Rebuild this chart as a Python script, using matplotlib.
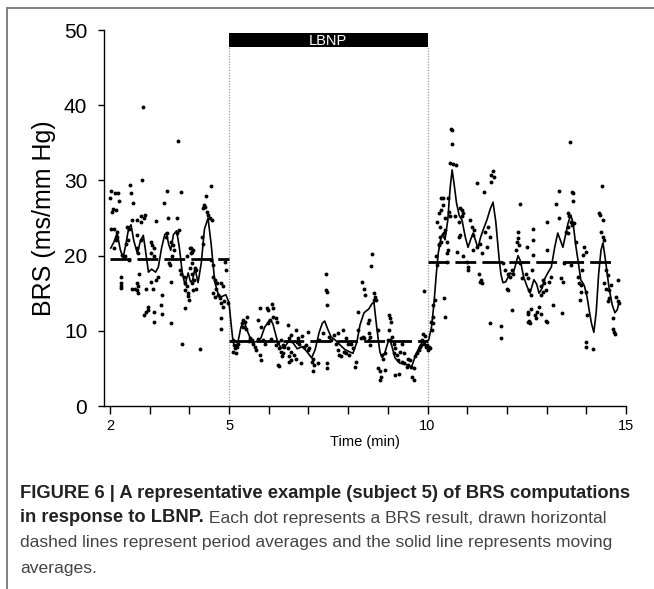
import matplotlib
matplotlib.use("Agg")
import matplotlib.pyplot as plt
from matplotlib.lines import Line2D

# BRS dots: (time in min, BRS in ms/mm Hg)
baseline_dots = [
    (3.71, 35.2), (2.84, 39.7), (2.81, 30.1), (2.50, 29.4), (2.03, 28.6), (2.13, 28.3),
    (2.20, 28.3), (2.00, 27.7), (2.23, 27.2), (2.52, 28.3), (3.44, 28.6), (3.78, 28.5),
    (2.59, 27.0), (3.36, 27.0), (2.08, 26.2), (2.14, 26.1), (2.06, 25.8), (2.88, 25.4),
    (2.79, 25.3), (2.86, 25.0), (2.56, 24.8), (2.69, 24.8), (2.77, 24.5), (3.17, 24.6),
    (3.46, 25.0), (3.68, 25.0), (2.03, 23.6), (2.10, 23.5), (2.17, 23.2), (2.42, 23.8),
    (2.48, 23.5), (2.15, 22.1), (2.18, 22.5), (2.40, 21.6), (2.45, 22.1), (2.67, 22.7),
    (2.77, 22.1), (3.03, 21.8), (3.07, 21.4), (3.11, 21.0), (3.40, 22.5), (3.44, 23.0),
    (3.55, 21.8), (3.59, 21.4), (3.61, 20.7), (3.70, 23.0), (3.74, 23.4), (4.05, 21.0),
    (4.07, 20.5), (2.10, 21.0), (2.31, 20.1), (2.37, 19.9), (2.48, 19.4), (2.69, 21.0),
    (2.71, 20.3), (3.03, 20.3), (3.11, 19.9), (3.49, 19.0), (3.57, 19.9), (3.93, 19.9),
    (2.27, 17.1), (2.27, 16.4), (2.28, 16.0), (2.28, 15.7), (2.73, 17.6), (2.69, 16.3),
    (2.70, 15.9), (2.69, 15.4), (2.70, 15.0), (2.90, 15.5), (3.09, 15.5), (3.15, 16.8),
    (3.21, 17.2), (3.03, 16.5), (3.51, 18.8), (3.53, 16.5), (3.30, 14.8), (3.76, 18.1),
    (3.80, 17.6), (3.86, 17.2), (3.89, 16.3), (3.93, 15.9), (3.96, 15.0), (3.89, 15.4),
    (4.07, 19.0), (4.02, 18.3), (3.88, 13.0), (3.28, 13.4), (2.96, 13.2), (2.92, 12.5),
    (2.86, 12.1), (3.11, 12.5), (3.11, 11.2), (3.55, 11.1), (3.30, 12.3), (3.81, 8.2),
    (4.27, 7.6), (3.99, 14.1), (3.96, 14.6), (2.97, 12.8), (2.56, 15.6), (2.63, 15.5),
    (4.54, 29.3), (4.42, 27.9), (4.37, 26.7), (4.35, 26.3), (4.39, 26.5), (4.45, 25.8),
    (4.48, 25.4), (4.52, 25.0), (4.56, 24.7), (4.02, 21.0), (4.08, 20.7), (4.04, 20.3),
    (4.33, 22.5), (4.35, 21.6), (4.14, 18.3), (4.18, 18.1), (4.06, 17.6), (4.12, 16.8),
    (4.06, 16.3), (4.17, 15.6), (4.10, 15.4), (4.54, 19.4), (4.59, 18.8), (4.60, 17.2),
    (4.64, 16.8), (4.69, 16.3), (4.67, 15.6), (4.81, 16.3), (4.85, 15.9), (4.90, 19.2),
    (4.92, 18.1), (4.60, 15.0), (4.64, 14.5), (4.73, 14.8), (4.77, 14.3), (4.81, 13.7),
    (4.84, 13.2), (4.88, 13.9), (4.98, 13.7), (4.81, 11.7), (4.81, 10.3),
]

lbnp_dots = [
    (5.11, 8.8), (5.12, 8.1), (5.15, 7.7), (5.19, 7.9), (5.09, 7.2), (5.17, 7.0),
    (5.23, 8.3), (5.32, 11.0), (5.36, 11.4), (5.40, 11.2), (5.44, 11.9), (5.36, 10.5),
    (5.43, 10.3), (5.57, 8.8), (5.61, 8.3), (5.65, 7.9), (5.68, 7.4), (5.78, 13.0),
    (5.74, 11.4), (5.80, 10.5), (5.78, 6.8), (5.80, 6.1), (5.95, 13.0), (5.99, 12.8),
    (6.07, 13.6), (6.10, 13.0), (5.99, 11.0), (6.03, 11.4), (6.11, 11.9), (6.18, 11.7),
    (5.90, 8.3), (5.86, 8.8), (6.24, 5.5), (6.24, 8.5), (6.18, 8.1), (5.50, 8.6),
    (5.53, 9.1), (5.72, 8.9), (6.05, 8.9), (7.44, 17.6), (7.44, 15.4), (7.47, 15.1),
    (7.48, 13.4), (8.35, 16.5), (8.41, 15.6), (8.26, 12.5), (8.24, 10.1), (6.22, 11.2),
    (6.48, 10.8), (6.69, 10.1), (6.56, 9.4), (6.52, 9.0), (6.84, 9.3), (6.98, 9.9),
    (6.73, 9.0), (6.70, 8.5), (6.77, 8.3), (6.31, 8.8), (6.35, 8.1), (6.26, 7.7),
    (6.39, 7.9), (6.31, 7.2), (6.37, 7.0), (6.33, 6.6), (6.48, 7.7), (6.56, 7.2),
    (6.50, 6.6), (6.56, 6.1), (6.52, 5.9), (6.26, 5.3), (6.64, 6.8), (6.69, 6.3),
    (6.81, 5.7), (6.89, 7.9), (6.94, 8.1), (6.98, 7.4), (7.02, 7.7), (7.11, 6.3),
    (7.09, 5.9), (7.15, 5.5), (7.12, 4.6), (7.23, 5.7), (7.48, 5.7), (7.48, 5.0),
    (7.52, 9.2), (7.57, 8.8), (7.65, 9.4), (7.69, 8.3), (7.74, 9.7), (7.86, 10.1),
    (7.94, 9.0), (7.99, 8.3), (7.74, 7.4), (7.78, 6.8), (7.82, 6.6), (7.90, 7.2),
    (7.94, 7.0), (8.03, 6.8), (8.07, 8.3), (8.13, 7.7), (8.20, 5.9), (8.18, 5.2),
    (8.32, 9.0), (8.38, 9.2), (7.27, 8.8), (7.36, 9.7), (8.60, 20.2), (8.58, 18.6),
    (8.43, 14.8), (8.64, 15.0), (8.68, 14.5), (8.64, 14.1), (8.70, 14.1), (8.52, 11.5),
    (8.50, 11.0), (8.75, 10.1), (8.52, 9.7), (8.56, 9.2), (8.53, 8.8), (8.56, 8.1),
    (8.39, 9.0), (9.02, 12.1), (9.06, 11.7), (9.09, 11.2), (9.04, 10.1), (9.10, 9.2),
    (9.00, 8.8), (9.06, 8.8), (8.85, 6.8), (8.89, 6.3), (8.93, 7.0), (8.75, 5.0),
    (8.81, 4.6), (8.92, 4.8), (8.83, 3.9), (8.81, 3.5), (9.15, 8.3), (9.19, 7.7),
    (9.15, 7.0), (9.23, 6.8), (9.25, 6.1), (9.36, 8.3), (9.31, 7.2), (9.40, 7.0),
    (9.36, 5.9), (9.42, 5.7), (9.48, 5.2), (9.52, 5.5), (9.59, 5.2), (9.65, 5.0),
    (9.19, 4.1), (9.27, 4.3), (9.61, 3.9), (9.67, 3.5), (9.52, 6.3), (9.56, 6.1),
    (9.69, 6.6), (9.73, 7.0), (9.78, 7.4), (9.82, 7.9), (9.86, 8.8), (9.90, 8.3),
    (9.84, 8.1), (9.88, 9.6), (9.93, 9.3), (9.90, 15.3), (9.98, 8.1), (9.96, 7.8),
]

recovery_dots = [
    (10.03, 7.9), (10.07, 7.7), (10.01, 7.4), (10.11, 10.1), (10.13, 11.0), (10.15, 11.9),
    (10.10, 11.2), (10.14, 13.4), (10.19, 14.1), (10.41, 14.3), (10.43, 11.9), (10.21, 19.9),
    (10.24, 18.8), (10.28, 21.6), (10.32, 22.5), (10.41, 23.0), (10.45, 23.4), (10.49, 19.2),
    (10.58, 36.9), (10.61, 36.7), (10.62, 34.8), (10.56, 32.3), (10.65, 32.2), (10.71, 32.0),
    (11.65, 31.2), (11.61, 30.7), (11.67, 30.5), (11.59, 29.8), (11.25, 29.7), (11.43, 28.5),
    (12.33, 26.9), (10.35, 27.7), (10.39, 27.7), (10.52, 27.6), (10.38, 26.7), (10.33, 26.1),
    (10.29, 25.6), (10.24, 24.5), (10.55, 25.8), (10.56, 25.2), (10.31, 23.8), (10.35, 21.8),
    (10.29, 21.4), (10.69, 25.2), (10.82, 26.3), (10.86, 26.1), (10.90, 25.6), (10.88, 25.2),
    (10.80, 24.5), (10.44, 25.0), (11.07, 24.7), (11.11, 23.8), (11.17, 23.4), (11.14, 22.7),
    (10.80, 22.5), (10.83, 22.7), (10.48, 21.8), (10.52, 20.7), (10.48, 20.3), (10.75, 20.5),
    (10.90, 19.9), (11.14, 20.7), (11.24, 21.2), (11.45, 23.2), (11.53, 23.8), (11.57, 22.5),
    (11.49, 21.2), (11.32, 21.6), (11.36, 20.3), (10.99, 19.2), (11.03, 18.5), (11.01, 18.1),
    (11.30, 17.6), (11.35, 16.8), (11.36, 16.3), (11.32, 16.5), (11.91, 19.0), (11.95, 18.1),
    (12.03, 17.6), (12.08, 17.2), (11.99, 15.6), (12.03, 15.4), (12.12, 18.1), (12.16, 17.6),
    (12.29, 23.2), (12.29, 22.3), (12.26, 21.8), (12.31, 21.4), (12.50, 21.2), (12.24, 20.7),
    (12.33, 19.0), (12.37, 17.0), (11.57, 11.0), (11.84, 10.6), (11.84, 9.0), (12.12, 12.8),
    (12.54, 12.5), (12.54, 11.2), (13.59, 35.1), (13.30, 28.6), (13.64, 28.5), (13.67, 28.3),
    (13.67, 27.3), (14.39, 29.3), (13.23, 26.9), (14.31, 25.7), (14.34, 25.4), (14.41, 24.8),
    (13.53, 25.7), (13.57, 25.2), (13.61, 24.5), (13.65, 24.1), (13.69, 24.3), (13.32, 25.0),
    (13.02, 24.5), (12.66, 23.6), (12.66, 22.1), (13.53, 23.8), (13.49, 23.2), (13.55, 23.0),
    (13.74, 21.8), (14.37, 23.2), (14.41, 22.5), (14.45, 22.1), (13.95, 21.2), (13.99, 20.5),
    (13.92, 20.1), (12.66, 20.1), (13.02, 20.7), (13.44, 19.0), (13.61, 18.8), (13.90, 18.1),
    (12.48, 17.6), (12.63, 18.1), (12.52, 17.0), (13.36, 17.0), (13.42, 16.5), (13.78, 17.2),
    (13.81, 16.3), (13.86, 16.1), (13.99, 15.2), (12.90, 16.8), (12.94, 16.3), (12.86, 15.9),
    (12.98, 15.4), (13.07, 16.5), (13.11, 17.2), (12.56, 15.4), (12.60, 14.8), (12.86, 14.8),
    (12.90, 15.2), (14.49, 18.1), (14.54, 17.4), (14.45, 16.3), (14.49, 15.6), (14.58, 15.4),
    (14.62, 16.1), (14.79, 16.8), (14.54, 13.9), (14.58, 14.3), (13.83, 14.1), (13.86, 15.2),
    (14.75, 14.5), (14.79, 13.9), (14.83, 13.7), (12.60, 12.9), (12.81, 13.2), (12.77, 12.5),
    (13.15, 13.4), (12.52, 12.3), (12.56, 11.3), (12.58, 11.0), (12.71, 12.1), (12.73, 11.7),
    (12.86, 12.3), (12.98, 11.3), (13.40, 12.4), (14.03, 12.1), (14.66, 11.7), (14.68, 10.3),
    (14.70, 9.9), (14.73, 9.6), (14.00, 8.5), (14.00, 7.9), (14.16, 7.6), (13.00, 11.2),
]

# moving average (solid line)
ma_t = [2.02, 2.10, 2.18, 2.26, 2.33, 2.40, 2.47, 2.53, 2.60, 2.69, 2.77, 2.84, 2.90, 2.97,
        3.05, 3.15, 3.22, 3.30, 3.38, 3.42, 3.48, 3.53, 3.60, 3.68, 3.75, 3.82, 3.89, 3.97,
        4.03, 4.08, 4.14, 4.22, 4.30, 4.38, 4.47, 4.55, 4.64, 4.72, 4.80, 4.92, 5.00, 5.06,
        5.10, 5.15, 5.22, 5.30, 5.38, 5.46, 5.58, 5.70, 5.80, 5.90, 6.03, 6.10, 6.23, 6.32,
        6.41, 6.50, 6.61, 6.72, 6.84, 6.95, 7.08, 7.17, 7.27, 7.35, 7.41, 7.48, 7.57, 7.69,
        7.80, 7.92, 8.00, 8.12, 8.22, 8.30, 8.40, 8.52, 8.60, 8.65, 8.72, 8.80, 8.85, 8.92,
        9.00, 9.05, 9.10, 9.18, 9.30, 9.48, 9.60, 9.70, 9.80, 9.86, 9.96, 10.03, 10.10, 10.16,
        10.22, 10.27, 10.33, 10.38, 10.44, 10.51, 10.57, 10.62, 10.67, 10.73, 10.80, 10.87,
        10.95, 11.02, 11.09, 11.15, 11.21, 11.27, 11.33, 11.40, 11.50, 11.58, 11.65, 11.72,
        11.80, 11.85, 11.90, 11.97, 12.08, 12.15, 12.22, 12.28, 12.34, 12.42, 12.50, 12.58,
        12.68, 12.75, 12.81, 12.88, 12.96, 13.03, 13.12, 13.20, 13.28, 13.35, 13.41, 13.48,
        13.54, 13.61, 13.67, 13.73, 13.79, 13.86, 13.95, 14.02, 14.07, 14.13, 14.19, 14.25,
        14.31, 14.37, 14.42, 14.48, 14.57, 14.65, 14.72, 14.78, 14.82]
ma_brs = [21.0, 21.8, 23.0, 20.8, 19.7, 21.5, 23.6, 24.1, 22.0, 20.3, 22.0, 22.7, 20.5, 17.8,
          18.2, 17.8, 18.5, 21.0, 22.8, 23.0, 21.5, 20.7, 22.8, 23.3, 21.0, 17.8, 16.1, 17.7,
          16.5, 16.7, 18.3, 16.4, 19.0, 23.5, 25.0, 21.5, 16.5, 15.0, 14.5, 14.8, 13.7, 10.5,
          8.6, 7.7, 8.4, 10.5, 11.3, 10.0, 8.4, 8.6, 9.0, 10.5, 11.5, 11.0, 8.4, 7.7,
          7.9, 8.6, 8.4, 7.6, 7.9, 7.3, 6.4, 7.5, 9.8, 11.0, 11.3, 10.3, 9.2, 8.7,
          8.1, 7.5, 7.3, 7.0, 8.5, 10.8, 12.4, 12.9, 13.6, 13.8, 10.5, 7.2, 6.5, 7.0,
          8.4, 8.8, 8.0, 6.4, 5.7, 5.5, 5.2, 6.8, 7.9, 8.4, 8.6, 8.8, 10.5, 13.5,
          17.5, 20.3, 22.1, 22.9, 22.1, 24.7, 29.0, 31.4, 29.5, 27.0, 25.3, 24.7,
          22.5, 21.1, 22.2, 23.0, 22.0, 21.0, 22.3, 23.4, 24.8, 26.2, 27.1, 24.5,
          19.8, 17.5, 16.4, 16.5, 17.7, 17.5, 18.8, 20.0, 19.3, 17.2, 16.0, 15.0,
          16.8, 16.2, 15.0, 15.6, 17.0, 17.7, 18.5, 21.0, 23.0, 22.0, 21.1, 22.8,
          24.3, 25.4, 24.3, 21.5, 19.4, 16.8, 16.0, 14.5, 12.8, 11.0, 9.8, 12.5,
          17.5, 20.7, 21.7, 19.5, 15.8, 13.5, 12.4, 12.8, 13.7]

# period averages (dashed lines)
period_start = [2.0, 5.0, 10.0]
period_end = [5.0, 10.0, 14.75]
period_mean = [19.6, 8.6, 19.2]

lbnp_on, lbnp_off = 5.0, 10.0

W, H = 654, 589
fig = plt.figure(figsize=(W / 100, H / 100), dpi=100)
ax = fig.add_axes([104 / W, 1 - 406 / H, 522 / W, 376 / H])

for dots in (baseline_dots, lbnp_dots, recovery_dots):
    t, v = zip(*dots)
    ax.plot(t, v, "o", ms=2.8, mew=0, color="black", zorder=3)

ax.plot(ma_t, ma_brs, color="black", lw=1.2, zorder=4)

for a, b, m in zip(period_start, period_end, period_mean):
    ax.plot([a, b], [m, m], color="black", lw=2.0, linestyle=(0, (7.5, 2.2)),
            solid_capstyle="butt", zorder=2)

# LBNP bar + dotted period borders
ax.fill_between([lbnp_on, lbnp_off], 47.7, 49.6, color="black", lw=0, zorder=5)
ax.text((lbnp_on + lbnp_off) / 2, 48.6, "LBNP", color="white", ha="center", va="center",
        fontsize=10.5, family="Liberation Sans", zorder=6)
for x in (lbnp_on, lbnp_off):
    ax.plot([x, x], [0, 47.7], color="#9a9a9a", lw=0.9, linestyle=(0, (1, 1.2)), zorder=1)

ax.set_xlim(1.85, 15.0)
ax.set_ylim(0, 50)
ax.spines["top"].set_visible(False)
ax.spines["right"].set_visible(False)
for s in ("left", "bottom"):
    ax.spines[s].set_linewidth(1.0)
ax.set_xticks(range(2, 16))
ax.set_xticklabels(["2", "", "", "5", "", "", "", "", "10", "", "", "", "", "15"],
                   family="Liberation Sans", fontsize=10.5)
ax.set_yticks([0, 10, 20, 30, 40, 50])
ax.set_yticklabels(["0", "10", "20", "30", "40", "50"], family="Liberation Sans", fontsize=15)
ax.tick_params(axis="x", direction="out", length=6, width=1.0, pad=3)
ax.tick_params(axis="y", direction="out", length=4, width=1.0, pad=8)
ax.set_xlabel("Time (min)", family="Liberation Sans", fontsize=10.5, labelpad=2)
ax.set_ylabel("BRS (ms/mm Hg)", family="Liberation Sans", fontsize=18, labelpad=6)

# caption
cap_x = 20 / W
fig.text(cap_x, 1 - 493 / H, "FIGURE 6 | A representative example (subject 5) of BRS computations",
         family="Liberation Sans", weight="bold", fontsize=13.2, color="#222222", va="center")
bold2 = fig.text(cap_x, 1 - 518 / H, "in response to LBNP.", family="Liberation Sans",
                 weight="bold", fontsize=13.2, color="#222222", va="center")
fig.text(cap_x, 1 - 543 / H, "dashed lines represent period averages and the solid line represents moving",
         family="Liberation Sans", fontsize=12.6, color="#444444", va="center")
fig.text(cap_x, 1 - 568 / H, "averages.", family="Liberation Sans", fontsize=12.6,
         color="#444444", va="center")
plt.annotate(" Each dot represents a BRS result, drawn horizontal", xy=(1, 0), xycoords=bold2,
             va="bottom", ha="left", family="Liberation Sans", fontsize=12.6, color="#444444",
             annotation_clip=False)

# page frame (top and left edge)
fig.add_artist(Line2D([7 / W, 1], [1 - 8 / H, 1 - 8 / H], transform=fig.transFigure,
                      color="#808080", lw=1.4))
fig.add_artist(Line2D([7 / W, 7 / W], [0, 1 - 8 / H], transform=fig.transFigure,
                      color="#808080", lw=1.4))

fig.savefig("out.png", dpi=100)
